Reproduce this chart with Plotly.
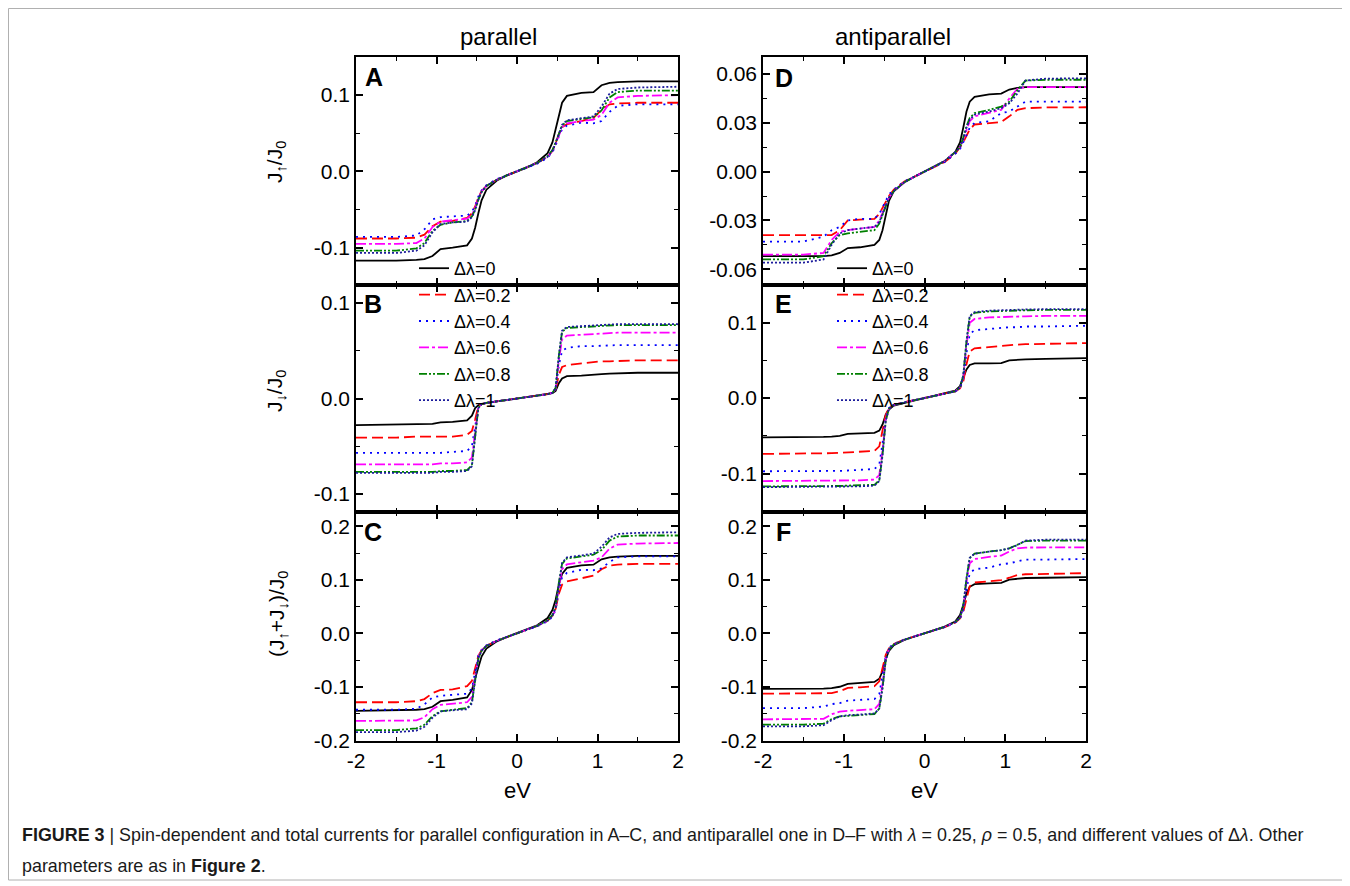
import plotly.graph_objects as go

W, H = 1350, 886
PAGE_OFFSET = 8  # the page body margin puts the figure 8 px in from the corner

# bias voltage grid (eV)
X_EV = [-2.0, -1.5, -1.25, -1.15, -1.05, -0.95, -0.8, -0.62, -0.56, -0.52, -0.48, -0.44, -0.38, -0.25, -0.12,
        0.0, 0.12, 0.25, 0.38, 0.44, 0.48, 0.52, 0.56, 0.62, 0.8, 0.95, 1.05, 1.15, 1.25, 1.5, 2.0]

LABELS = ["Δλ=0", "Δλ=0.2", "Δλ=0.4", "Δλ=0.6", "Δλ=0.8", "Δλ=1"]

# A: J_up / J0, parallel
A_0 = [-0.117, -0.117, -0.116, -0.115, -0.111, -0.102, -0.100, -0.097, -0.088, -0.074, -0.055, -0.038, -0.024, -0.012, -0.005,
       0.0, 0.005, 0.012, 0.024, 0.038, 0.055, 0.075, 0.090, 0.099, 0.103, 0.104, 0.113, 0.116, 0.117, 0.118, 0.118]
A_02 = [-0.088, -0.088, -0.087, -0.083, -0.072, -0.066, -0.065, -0.061, -0.055, -0.046, -0.034, -0.026, -0.019, -0.011, -0.005,
        0.0, 0.005, 0.011, 0.019, 0.027, 0.037, 0.049, 0.058, 0.062, 0.066, 0.070, 0.081, 0.088, 0.089, 0.090, 0.090]
A_04 = [-0.086, -0.086, -0.084, -0.076, -0.063, -0.060, -0.059, -0.058, -0.053, -0.045, -0.033, -0.025, -0.018, -0.010, -0.005,
        0.0, 0.005, 0.010, 0.018, 0.025, 0.034, 0.046, 0.055, 0.060, 0.064, 0.063, 0.066, 0.078, 0.086, 0.088, 0.088]
A_06 = [-0.095, -0.095, -0.094, -0.088, -0.073, -0.066, -0.064, -0.062, -0.057, -0.048, -0.035, -0.026, -0.019, -0.011, -0.005,
        0.0, 0.005, 0.011, 0.019, 0.027, 0.036, 0.048, 0.058, 0.063, 0.066, 0.068, 0.074, 0.090, 0.097, 0.099, 0.100]
A_08 = [-0.104, -0.104, -0.101, -0.094, -0.078, -0.070, -0.067, -0.065, -0.059, -0.050, -0.037, -0.027, -0.019, -0.011, -0.005,
        0.0, 0.005, 0.011, 0.020, 0.028, 0.038, 0.050, 0.060, 0.066, 0.069, 0.071, 0.080, 0.097, 0.104, 0.106, 0.106]
A_1 = [-0.107, -0.107, -0.104, -0.097, -0.080, -0.069, -0.067, -0.066, -0.060, -0.051, -0.037, -0.027, -0.019, -0.011, -0.005,
       0.0, 0.005, 0.011, 0.019, 0.027, 0.037, 0.050, 0.061, 0.067, 0.070, 0.072, 0.085, 0.102, 0.108, 0.110, 0.111]

# B: J_down / J0, parallel
B_0 = [-0.028, -0.0275, -0.027, -0.027, -0.0265, -0.025, -0.0245, -0.023, -0.018, -0.010, -0.007, -0.0055, -0.0045, -0.003, -0.0015,
       0.0, 0.0015, 0.003, 0.0045, 0.0055, 0.008, 0.016, 0.021, 0.0235, 0.024, 0.0245, 0.0255, 0.026, 0.0265, 0.027, 0.027]
B_02 = [-0.041, -0.041, -0.040, -0.040, -0.040, -0.040, -0.040, -0.038, -0.034, -0.022, -0.008, -0.006, -0.0045, -0.003, -0.0015,
        0.0, 0.0015, 0.003, 0.0045, 0.006, 0.009, 0.025, 0.033, 0.035, 0.037, 0.038, 0.039, 0.039, 0.0395, 0.040, 0.040]
B_04 = [-0.057, -0.057, -0.057, -0.057, -0.057, -0.057, -0.056, -0.055, -0.050, -0.030, -0.009, -0.006, -0.0045, -0.003, -0.0015,
        0.0, 0.0015, 0.003, 0.0045, 0.006, 0.010, 0.035, 0.050, 0.053, 0.055, 0.055, 0.0555, 0.0555, 0.056, 0.056, 0.056]
B_06 = [-0.069, -0.069, -0.069, -0.069, -0.069, -0.068, -0.068, -0.067, -0.062, -0.035, -0.009, -0.006, -0.0045, -0.003, -0.0015,
        0.0, 0.0015, 0.003, 0.0045, 0.006, 0.010, 0.040, 0.062, 0.066, 0.067, 0.068, 0.068, 0.0685, 0.069, 0.069, 0.069]
B_08 = [-0.077, -0.077, -0.077, -0.077, -0.077, -0.076, -0.076, -0.075, -0.070, -0.040, -0.010, -0.006, -0.0045, -0.003, -0.0015,
        0.0, 0.0015, 0.003, 0.0045, 0.006, 0.011, 0.045, 0.070, 0.074, 0.075, 0.076, 0.076, 0.0765, 0.077, 0.077, 0.077]
B_1 = [-0.078, -0.078, -0.078, -0.078, -0.078, -0.077, -0.077, -0.076, -0.071, -0.040, -0.010, -0.006, -0.0045, -0.003, -0.0015,
       0.0, 0.0015, 0.003, 0.0045, 0.006, 0.011, 0.045, 0.071, 0.075, 0.076, 0.077, 0.077, 0.0775, 0.078, 0.078, 0.078]

# C: total, parallel
C_0 = [-0.145, -0.1445, -0.143, -0.142, -0.1375, -0.127, -0.1245, -0.120, -0.106, -0.084, -0.062, -0.0435, -0.0285, -0.015, -0.0065,
       0.0, 0.0065, 0.015, 0.0285, 0.0435, 0.063, 0.091, 0.111, 0.1225, 0.127, 0.1285, 0.1385, 0.142, 0.1435, 0.145, 0.145]
C_02 = [-0.129, -0.129, -0.127, -0.123, -0.112, -0.106, -0.105, -0.099, -0.089, -0.068, -0.042, -0.032, -0.0235, -0.014, -0.0065,
        0.0, 0.0065, 0.014, 0.0235, 0.033, 0.046, 0.074, 0.091, 0.097, 0.103, 0.108, 0.120, 0.127, 0.1285, 0.130, 0.130]
C_04 = [-0.143, -0.143, -0.141, -0.133, -0.120, -0.117, -0.115, -0.113, -0.103, -0.075, -0.042, -0.031, -0.0225, -0.013, -0.0065,
        0.0, 0.0065, 0.013, 0.0225, 0.031, 0.044, 0.081, 0.105, 0.113, 0.119, 0.118, 0.1215, 0.1335, 0.142, 0.144, 0.144]
C_06 = [-0.164, -0.164, -0.163, -0.157, -0.142, -0.134, -0.132, -0.129, -0.119, -0.083, -0.044, -0.032, -0.0235, -0.014, -0.0065,
        0.0, 0.0065, 0.014, 0.0235, 0.033, 0.046, 0.088, 0.120, 0.129, 0.133, 0.136, 0.142, 0.1585, 0.166, 0.168, 0.169]
C_08 = [-0.181, -0.181, -0.178, -0.171, -0.155, -0.146, -0.143, -0.140, -0.129, -0.090, -0.047, -0.033, -0.0235, -0.014, -0.0065,
        0.0, 0.0065, 0.014, 0.0245, 0.034, 0.049, 0.095, 0.130, 0.140, 0.144, 0.147, 0.156, 0.1735, 0.181, 0.183, 0.183]
C_1 = [-0.185, -0.185, -0.182, -0.175, -0.158, -0.146, -0.144, -0.142, -0.131, -0.091, -0.047, -0.033, -0.0235, -0.014, -0.0065,
       0.0, 0.0065, 0.014, 0.0235, 0.033, 0.048, 0.095, 0.132, 0.142, 0.146, 0.149, 0.162, 0.1795, 0.186, 0.188, 0.189]

# D: J_up / J0, antiparallel
D_0 = [-0.052, -0.052, -0.052, -0.0515, -0.050, -0.047, -0.0465, -0.045, -0.042, -0.036, -0.026, -0.018, -0.012, -0.0065, -0.003,
       0.0, 0.003, 0.0065, 0.012, 0.018, 0.027, 0.037, 0.043, 0.046, 0.0475, 0.048, 0.0505, 0.0515, 0.052, 0.052, 0.052]
D_02 = [-0.039, -0.039, -0.039, -0.039, -0.036, -0.030, -0.0295, -0.029, -0.026, -0.022, -0.018, -0.015, -0.011, -0.006, -0.003,
        0.0, 0.003, 0.006, 0.011, 0.015, 0.018, 0.022, 0.026, 0.029, 0.030, 0.0305, 0.034, 0.038, 0.039, 0.0395, 0.0396]
D_04 = [-0.043, -0.043, -0.040, -0.036, -0.034, -0.030, -0.029, -0.029, -0.026, -0.022, -0.018, -0.014, -0.011, -0.006, -0.003,
        0.0, 0.003, 0.006, 0.011, 0.014, 0.018, 0.023, 0.027, 0.030, 0.031, 0.036, 0.037, 0.040, 0.043, 0.043, 0.043]
D_06 = [-0.051, -0.051, -0.050, -0.042, -0.037, -0.036, -0.035, -0.034, -0.030, -0.025, -0.020, -0.016, -0.012, -0.0065, -0.003,
        0.0, 0.003, 0.0065, 0.012, 0.015, 0.020, 0.026, 0.031, 0.034, 0.036, 0.038, 0.045, 0.051, 0.052, 0.052, 0.052]
D_08 = [-0.054, -0.054, -0.052, -0.044, -0.039, -0.038, -0.037, -0.036, -0.032, -0.027, -0.021, -0.016, -0.012, -0.0065, -0.003,
        0.0, 0.003, 0.0065, 0.012, 0.015, 0.021, 0.028, 0.033, 0.036, 0.038, 0.040, 0.043, 0.050, 0.056, 0.0565, 0.0565]
D_1 = [-0.056, -0.056, -0.054, -0.045, -0.038, -0.036, -0.035, -0.034, -0.031, -0.026, -0.020, -0.016, -0.012, -0.0065, -0.003,
       0.0, 0.003, 0.0065, 0.012, 0.015, 0.020, 0.027, 0.032, 0.035, 0.037, 0.039, 0.042, 0.048, 0.056, 0.0572, 0.0574]

# E: J_down / J0, antiparallel
E_0 = [-0.052, -0.052, -0.0515, -0.051, -0.050, -0.0475, -0.047, -0.046, -0.043, -0.035, -0.022, -0.015, -0.010, -0.006, -0.003,
       0.0, 0.003, 0.006, 0.010, 0.016, 0.026, 0.038, 0.044, 0.046, 0.046, 0.0465, 0.050, 0.051, 0.0515, 0.052, 0.053]
E_02 = [-0.074, -0.074, -0.0735, -0.073, -0.0725, -0.072, -0.0715, -0.070, -0.064, -0.045, -0.022, -0.013, -0.009, -0.0055, -0.0027,
        0.0, 0.0027, 0.0055, 0.009, 0.013, 0.022, 0.045, 0.062, 0.066, 0.068, 0.069, 0.070, 0.071, 0.0715, 0.072, 0.073]
E_04 = [-0.097, -0.097, -0.097, -0.0965, -0.0965, -0.096, -0.0955, -0.094, -0.088, -0.060, -0.025, -0.013, -0.009, -0.0055, -0.0027,
        0.0, 0.0027, 0.0055, 0.009, 0.013, 0.025, 0.060, 0.085, 0.090, 0.092, 0.093, 0.094, 0.094, 0.095, 0.095, 0.096]
E_06 = [-0.110, -0.110, -0.110, -0.1095, -0.1095, -0.109, -0.109, -0.108, -0.102, -0.070, -0.028, -0.014, -0.009, -0.0055, -0.0027,
        0.0, 0.0027, 0.0055, 0.009, 0.014, 0.028, 0.070, 0.100, 0.105, 0.107, 0.1075, 0.108, 0.108, 0.1085, 0.109, 0.109]
E_08 = [-0.117, -0.117, -0.117, -0.1165, -0.1165, -0.116, -0.116, -0.115, -0.109, -0.075, -0.030, -0.014, -0.009, -0.0055, -0.0027,
        0.0, 0.0027, 0.0055, 0.009, 0.014, 0.030, 0.075, 0.108, 0.113, 0.115, 0.1155, 0.116, 0.116, 0.1165, 0.117, 0.117]
E_1 = [-0.118, -0.118, -0.118, -0.1175, -0.1175, -0.117, -0.117, -0.116, -0.110, -0.076, -0.030, -0.014, -0.009, -0.0055, -0.0027,
       0.0, 0.0027, 0.0055, 0.009, 0.014, 0.030, 0.076, 0.109, 0.114, 0.116, 0.1165, 0.117, 0.117, 0.1175, 0.118, 0.118]

# F: total, antiparallel
F_0 = [-0.104, -0.104, -0.1035, -0.1025, -0.100, -0.0945, -0.0935, -0.091, -0.085, -0.071, -0.048, -0.033, -0.022, -0.0125, -0.006,
       0.0, 0.006, 0.0125, 0.022, 0.034, 0.053, 0.075, 0.087, 0.092, 0.0935, 0.0945, 0.1005, 0.1025, 0.1035, 0.104, 0.105]
F_02 = [-0.113, -0.113, -0.1125, -0.112, -0.1085, -0.102, -0.101, -0.099, -0.090, -0.067, -0.040, -0.028, -0.020, -0.0115, -0.0057,
        0.0, 0.0057, 0.0115, 0.020, 0.028, 0.040, 0.067, 0.088, 0.095, 0.098, 0.0995, 0.104, 0.109, 0.1105, 0.1115, 0.1126]
F_04 = [-0.140, -0.140, -0.137, -0.1325, -0.1305, -0.126, -0.1245, -0.123, -0.114, -0.082, -0.043, -0.027, -0.020, -0.0115, -0.0057,
        0.0, 0.0057, 0.0115, 0.020, 0.027, 0.043, 0.083, 0.112, 0.120, 0.123, 0.129, 0.131, 0.134, 0.138, 0.138, 0.139]
F_06 = [-0.161, -0.161, -0.160, -0.1515, -0.1465, -0.145, -0.144, -0.142, -0.132, -0.095, -0.048, -0.030, -0.021, -0.012, -0.0057,
        0.0, 0.0057, 0.012, 0.021, 0.029, 0.048, 0.096, 0.131, 0.139, 0.143, 0.1455, 0.153, 0.159, 0.1605, 0.161, 0.161]
F_08 = [-0.171, -0.171, -0.169, -0.1605, -0.1555, -0.154, -0.153, -0.151, -0.141, -0.102, -0.051, -0.030, -0.021, -0.012, -0.0057,
        0.0, 0.0057, 0.012, 0.021, 0.029, 0.051, 0.103, 0.141, 0.149, 0.153, 0.1555, 0.159, 0.166, 0.1725, 0.1735, 0.1735]
F_1 = [-0.174, -0.174, -0.172, -0.1625, -0.1555, -0.153, -0.152, -0.150, -0.141, -0.102, -0.050, -0.030, -0.021, -0.012, -0.0057,
       0.0, 0.0057, 0.012, 0.021, 0.029, 0.050, 0.103, 0.141, 0.149, 0.153, 0.1555, 0.159, 0.165, 0.1735, 0.1752, 0.1754]

X_TICKS = [-2, -1, 0, 1, 2]
X_TICKTEXT = ["-2", "-1", "0", "1", "2"]
Y_TICKS_AB = [-0.1, 0.0, 0.1]
Y_TICKTEXT_AB = ["-0.1", "0.0", "0.1"]
Y_TICKS_C = [-0.2, -0.1, 0.0, 0.1, 0.2]
Y_TICKTEXT_C = ["-0.2", "-0.1", "0.0", "0.1", "0.2"]
Y_TICKS_D = [-0.06, -0.03, 0.0, 0.03, 0.06]
Y_TICKTEXT_D = ["-0.06", "-0.03", "0.00", "0.03", "0.06"]

COLORS = ["black", "#ff0000", "#0000ff", "#ff00ff", "#008000", "#1c1c9c"]
DASHES = ["solid", "11px,5px", "2px,5px", "10px,3px,3px,3px", "8px,2px,2px,2px,2px,2px", "2px,2px"]

FONT = "Liberation Sans, Arial, sans-serif"


def px(x):
    return (x - PAGE_OFFSET) / W


def py(y):
    return 1 - (y - PAGE_OFFSET) / H


LEFT = [px(356), px(678)]
RIGHT = [px(763), px(1086)]
ROWS = [[py(285), py(57)], [py(512), py(285)], [py(741), py(512)]]

panels = [
    ("A", [A_0, A_02, A_04, A_06, A_08, A_1], LEFT, ROWS[0], [-0.149, 0.150], Y_TICKS_AB, Y_TICKTEXT_AB, 0.05),
    ("B", [B_0, B_02, B_04, B_06, B_08, B_1], LEFT, ROWS[1], [-0.119, 0.119], Y_TICKS_AB, Y_TICKTEXT_AB, 0.05),
    ("C", [C_0, C_02, C_04, C_06, C_08, C_1], LEFT, ROWS[2], [-0.2015, 0.227], Y_TICKS_C, Y_TICKTEXT_C, 0.05),
    ("D", [D_0, D_02, D_04, D_06, D_08, D_1], RIGHT, ROWS[0], [-0.0697, 0.0705], Y_TICKS_D, Y_TICKTEXT_D, 0.015),
    ("E", [E_0, E_02, E_04, E_06, E_08, E_1], RIGHT, ROWS[1], [-0.151, 0.150], Y_TICKS_AB, Y_TICKTEXT_AB, 0.05),
    ("F", [F_0, F_02, F_04, F_06, F_08, F_1], RIGHT, ROWS[2], [-0.2015, 0.227], Y_TICKS_C, Y_TICKTEXT_C, 0.05),
]

fig = go.Figure()
layout = {}
annotations = []

for i, (letter, series, xdom, ydom, yrange, ytv, ytt, yminor) in enumerate(panels):
    n = "" if i == 0 else str(i + 1)
    bottom = letter in ("C", "F")
    for k, ys in enumerate(series):
        fig.add_trace(go.Scatter(
            x=X_EV, y=ys, mode="lines", name=LABELS[k],
            line=dict(color=COLORS[k], dash=DASHES[k], width=1.8),
            xaxis="x" + n, yaxis="y" + n,
            showlegend=letter in ("A", "D"),
            legend="legend" if letter in ("A", "B", "C") else "legend2",
        ))
    common = dict(showline=True, linecolor="black", linewidth=1.6, mirror="ticks",
                  ticks="inside", ticklen=7, tickwidth=1.6, tickcolor="black",
                  showgrid=False, zeroline=False, automargin=False,
                  tickfont=dict(size=21, color="black", family=FONT))
    layout["xaxis" + n] = dict(common, domain=xdom, anchor="y" + n, range=[-2, 2],
                               tickmode="array", tickvals=X_TICKS, ticktext=X_TICKTEXT,
                               showticklabels=bottom,
                               minor=dict(tick0=-2, dtick=0.5, ticks="inside", ticklen=4,
                                          tickwidth=1.4, tickcolor="black"))
    layout["yaxis" + n] = dict(common, domain=ydom, anchor="x" + n, range=yrange,
                               tickmode="array", tickvals=ytv, ticktext=ytt,
                               minor=dict(tick0=0, dtick=yminor, ticks="inside", ticklen=4,
                                          tickwidth=1.4, tickcolor="black"))


def note(text, x, y, size, angle=0, xanchor="center", color="black", family=FONT):
    annotations.append(dict(x=px(x), y=py(y), xref="paper", yref="paper", text=text, showarrow=False,
                            xanchor=xanchor, yanchor="middle", textangle=angle,
                            font=dict(size=size, color=color, family=family)))


# panel letters
for letter, lx, ly in [("A", 374, 77), ("B", 373, 304), ("C", 373, 532),
                       ("D", 784, 78), ("E", 783, 304), ("F", 783, 532)]:
    note("<b>%s</b>" % letter, lx, ly, 25)

# column titles and x titles
note("parallel", 498, 37, 24)
note("antiparallel", 893, 37, 24)
note("eV", 517, 790, 22)
note("eV", 924, 790, 22)

# y titles
note("J<sub>↑</sub>/J<sub>0</sub>", 276, 162, 21, angle=-90)
note("J<sub>↓</sub>/J<sub>0</sub>", 276, 391, 21, angle=-90)
note("(J<sub>↑</sub>+J<sub>↓</sub>)/J<sub>0</sub>", 278, 614, 21, angle=-90)

# caption
note("<b>FIGURE 3</b> | Spin-dependent and total currents for parallel configuration in A–C, and antiparallel "
     "one in D–F with <i>λ</i> = 0.25, <i>ρ</i> = 0.5, and different values of Δ<i>λ</i>. Other",
     20, 835, 17.9, xanchor="left", color="#1a1a1a")
note("parameters are as in <b>Figure 2</b>.", 20, 866, 17.9, xanchor="left", color="#1a1a1a")

legend_style = dict(xanchor="left", yanchor="top", bgcolor="rgba(0,0,0,0)",
                    font=dict(size=18, color="black", family=FONT), tracegroupgap=0)

fig.update_layout(
    width=W, height=H,
    margin=dict(l=0, r=0, t=0, b=0, pad=0, autoexpand=False),
    paper_bgcolor="white", plot_bgcolor="white",
    font=dict(family=FONT, color="black"),
    annotations=annotations,
    legend=dict(legend_style, x=px(414), y=py(250)),
    legend2=dict(legend_style, x=px(832), y=py(250)),
    shapes=[dict(type="rect", xref="paper", yref="paper", x0=px(8.5), x1=px(1343), y0=py(880), y1=py(8.5),
                 line=dict(color="#b0b0b0", width=1))],
    **layout,
)

fig.write_html("out.html")
